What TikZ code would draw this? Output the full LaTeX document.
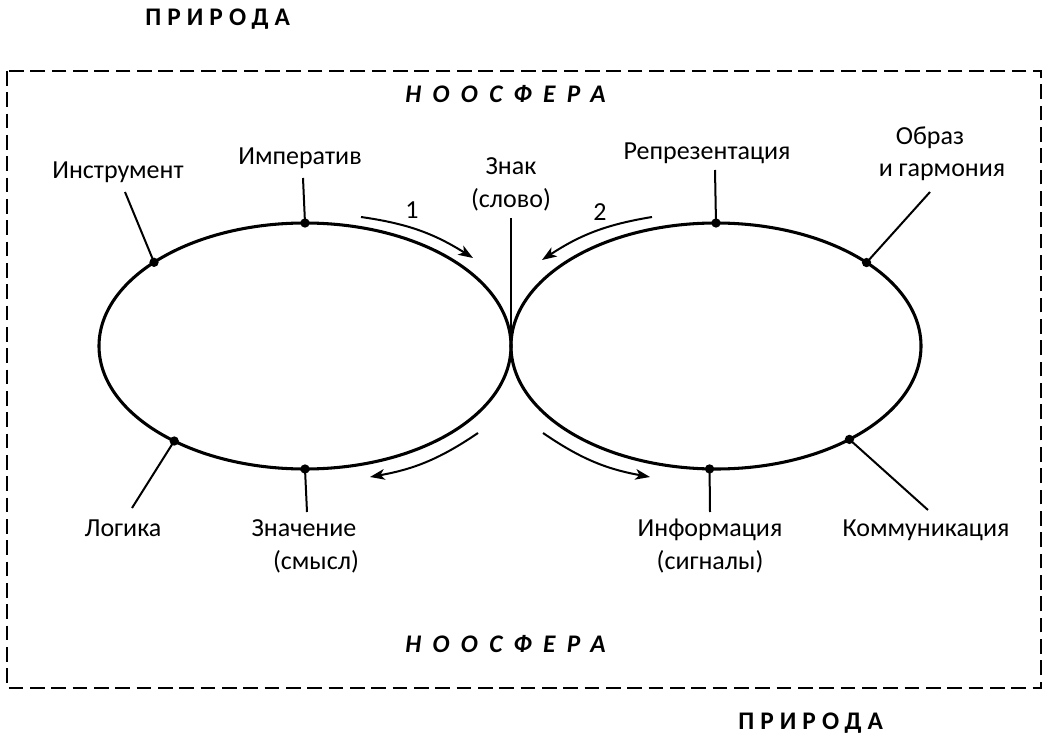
\documentclass[tikz,border=0pt]{standalone}
\usepackage{fontspec}
\setmainfont{Carlito}
\usetikzlibrary{shapes.geometric,arrows.meta}
\begin{document}
\begin{tikzpicture}[x=0.75pt,y=-0.75pt,
  lbl/.style={inner sep=0pt, anchor=base, font=\fontsize{19.5}{23}\selectfont},
  ttl/.style={inner sep=0pt, anchor=base west, font=\fontsize{19}{22}\selectfont\bfseries\addfontfeature{LetterSpace=24}},
  ttli/.style={inner sep=0pt, anchor=base west, font=\fontsize{19}{22}\selectfont\bfseries\itshape\addfontfeature{LetterSpace=45}},
  loop/.style={ellipse, draw, line width=2.3pt, inner sep=0pt, outer sep=0pt, minimum height=184.5pt},
  pin/.style={line width=1.5pt},
  dot/.style={circle, fill, inner sep=0pt, minimum size=7pt},
  flow/.style={line width=1.5pt, -{Stealth[length=11pt,width=8pt,inset=3pt]}},
  frame/.style={line width=1.8pt, dash pattern=on 11pt off 5pt}
]
\useasboundingbox (0,0) rectangle (1042,738);
\draw[frame] (7,71) rectangle (1041,688);

% titles
\node[ttl] (p1) at (145,26) {ПРИРОДА};
\node[ttl] (p2) at (738,729) {ПРИРОДА};
\node[ttli] (s1) at (405,103) {НООСФЕРА};
\node[ttli] (s2) at (405,652) {НООСФЕРА};

% loops
\node[loop, minimum width=309pt] (L) at (305,346) {};
\node[loop, minimum width=307.5pt] (R) at (716,346) {};

% dots on loops
\node[dot] (d1) at (L.151) {};
\node[dot] (d2) at (L.90) {};
\node[dot] (d6) at (L.216) {};
\node[dot] (d7) at (L.270) {};
\node[dot] (d4) at (R.90) {};
\node[dot] (d5) at (R.29) {};
\node[dot] (d8) at (R.267) {};
\node[dot] (d9) at (R.325) {};

% free ends
\coordinate (e1) at (125,192);
\coordinate (e2) at (303,178);
\coordinate (e3) at (511,218);
\coordinate (e4) at (715,170);
\coordinate (e5) at (930,192);
\coordinate (e6) at (132,508);
\coordinate (e7) at (307,512);
\coordinate (e8) at (710,512);
\coordinate (e9) at (928,510);

\draw[pin] (d1.center) -- (e1);
\draw[pin] (d2.center) -- (e2);
\draw[pin] (L.east) -- (e3);
\draw[pin] (d4.center) -- (e4);
\draw[pin] (d5.center) -- (e5);
\draw[pin] (d6.center) -- (e6);
\draw[pin] (d7.center) -- (e7);
\draw[pin] (d8.center) -- (e8);
\draw[pin] (d9.center) -- (e9);

% labels
\node[lbl] (t1) at (118,179) {Инструмент};
\node[lbl] (t2) at (300,165) {Императив};
\node[lbl] (t3) at (511,175) {Знак};
\node[lbl] (t3b) at (511,208) {(слово)};
\node[lbl] (t4) at (707,160) {Репрезентация};
\node[lbl] (t5) at (930,145) {Образ};
\node[lbl] (t5b) at (942,176) {и гармония};
\node[lbl] (t6) at (123,536) {Логика};
\node[lbl] (t7) at (304,536) {Значение};
\node[lbl] (t7b) at (316,569) {(смысл)};
\node[lbl] (t8) at (710,536) {Информация};
\node[lbl] (t8b) at (710,569) {(сигналы)};
\node[lbl] (t9) at (926,536) {Коммуникация};
\node[lbl] (n1) at (412,219) {1};
\node[lbl] (n2) at (600,220) {2};

% flow arrows
\coordinate (a1s) at (361,217); \coordinate (a1e) at (473,258);
\coordinate (a2s) at (652,217); \coordinate (a2e) at (542,260);
\coordinate (a3s) at (478,433); \coordinate (a3e) at (370,477);
\coordinate (a4s) at (543,433); \coordinate (a4e) at (650,477);
\draw[flow] (a1s) to[bend left=12] (a1e);
\draw[flow] (a2s) to[bend right=12] (a2e);
\draw[flow] (a3s) to[bend left=12] (a3e);
\draw[flow] (a4s) to[bend right=12] (a4e);
\end{tikzpicture}
\end{document}
